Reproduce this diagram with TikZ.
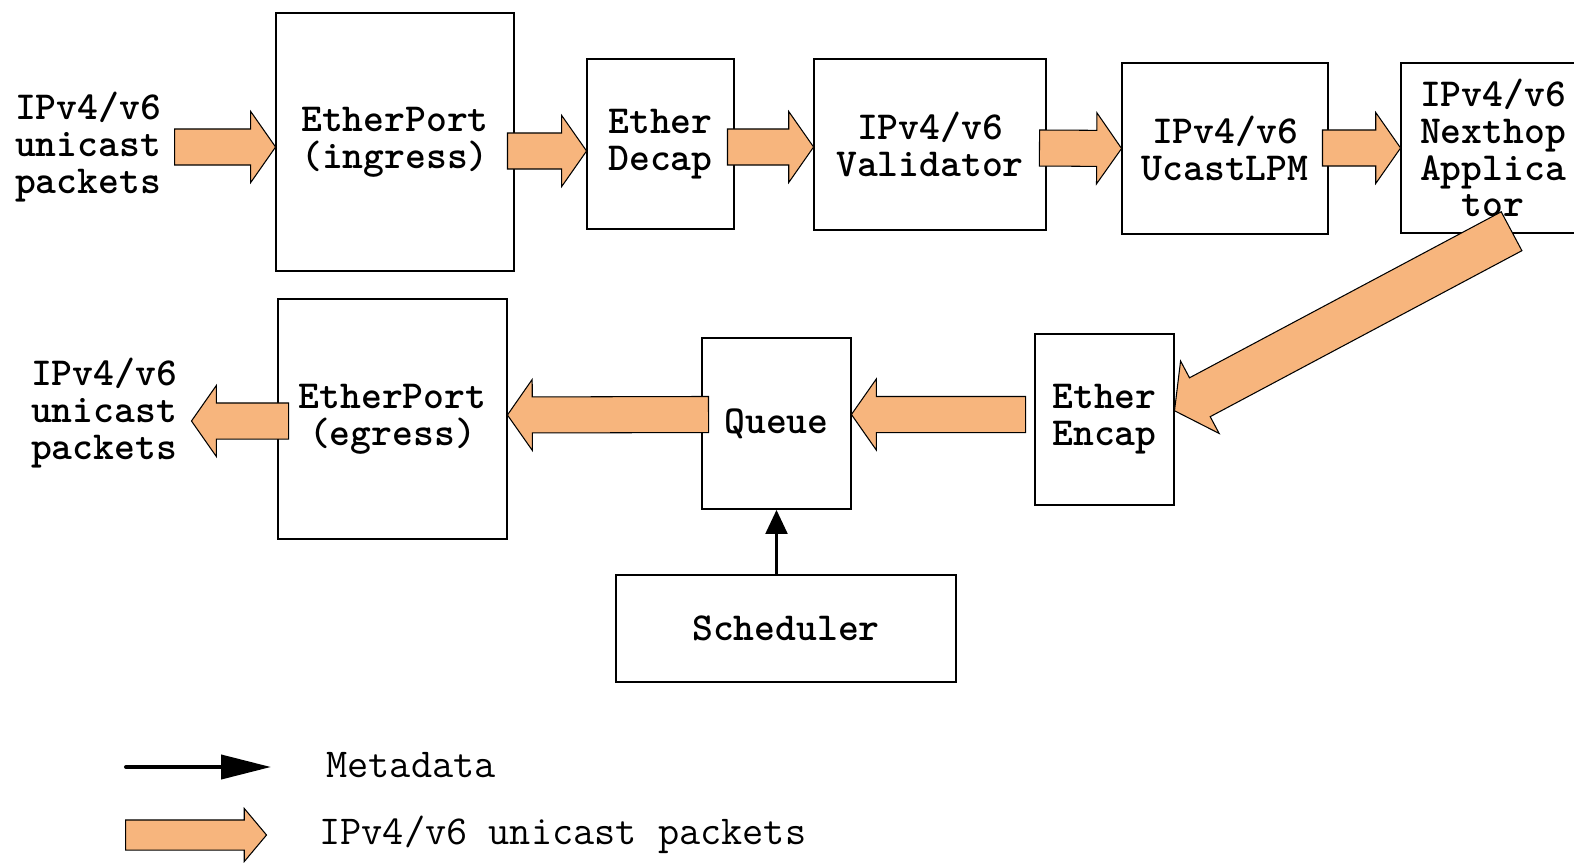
\documentclass[tikz,border=0pt]{standalone}
\usepackage{fontspec}
\usetikzlibrary{arrows.meta,calc,shapes.arrows}
\definecolor{pktorange}{RGB}{247,181,125}
\tikzset{
  unit/.style={rectangle, draw=black, line width=1.1pt, align=center, inner sep=0pt,
               font=\ttfamily\bfseries\fontsize{22.6}{21}\selectfont},
  tag/.style={align=center, inner sep=0pt, font=\ttfamily\bfseries\fontsize{22.6}{21}\selectfont},
  legendtag/.style={anchor=west, inner sep=0pt, font=\ttfamily\fontsize{23.4}{21}\selectfont},
  pktarrow/.style={single arrow, draw=black, line width=0.6pt, fill=pktorange,
                   inner xsep=0pt, inner ysep=0.35cm, minimum width=1.4cm,
                   single arrow head extend=0.35cm, single arrow tip angle=110,
                   sloped, allow upside down, pos=0, anchor=tail},
  meta/.style={-{Triangle[length=0.48cm,width=0.44cm]}, line width=1.3pt},
}
% fat packet arrow from #2 (tail) to #3 (tip)
\newcommand{\packetflow}[3][]{%
  \path let \p1=($(#3)-(#2)$), \n1={veclen(\x1,\y1)} in
    (#2) -- (#3) node[pktarrow, minimum height=\n1, #1] {};}

\begin{document}
\begin{tikzpicture}[x=0.02cm, y=-0.02cm]
\useasboundingbox (0,0) rectangle (1574,862);
\clip (0,0) rectangle (1574,862);

% forwarding units
\node[unit, minimum width=4.76cm, minimum height=5.16cm] (ingress) at (395,142) {EtherPort\\(ingress)};
\node[unit, minimum width=2.94cm, minimum height=3.40cm] (decap) at (660.5,144) {Ether\\Decap};
\node[unit, minimum width=4.64cm, minimum height=3.42cm] (validator) at (930,144.5) {IPv4/v6\\Validator};
\node[unit, minimum width=4.12cm, minimum height=3.42cm] (ucast) at (1225,148.5) {IPv4/v6\\UcastLPM};
\node[unit, minimum width=3.68cm, minimum height=3.40cm] (nexthop) at (1493,148) {IPv4/v6\\Nexthop\\Applica\\tor};
\node[unit, minimum width=2.78cm, minimum height=3.42cm] (encap) at (1104.5,419.5) {Ether\\Encap};
\node[unit, minimum width=2.98cm, minimum height=3.42cm] (queue) at (776.5,423.5) {Queue};
\node[unit, minimum width=4.58cm, minimum height=4.80cm] (egress) at (392.5,419) {EtherPort\\(egress)};
\node[unit, minimum width=6.80cm, minimum height=2.14cm] (sched) at (786,628.5) {Scheduler};

\node[tag] (srclabel) at (88,147) {IPv4/v6\\unicast\\packets};
\node[tag] (dstlabel) at (104,413) {IPv4/v6\\unicast\\packets};

% packet path
\coordinate (pin) at (174,147);
\coordinate (pout) at (192,421);
\coordinate (pturn) at (1512,231);
\packetflow{pin}{$(ingress.west)+(0,5)$}
\packetflow{$(ingress.east)+(-8,9)$}{$(decap.west)+(0,7)$}
\packetflow{$(decap.east)+(-8,3)$}{$(validator.west)+(0,2.5)$}
\packetflow{$(validator.east)+(-8,3.5)$}{ucast.west}
\packetflow{$(ucast.east)+(-7,-0.5)$}{nexthop.west}
\packetflow[inner ysep=0.43cm, minimum width=1.6cm, single arrow head extend=0.38cm]{pturn}{$(encap.east)+(0,-9)$}
\packetflow{$(encap.west)+(-8,-5)$}{$(queue.east)+(0,-9)$}
\packetflow{$(queue.west)+(8,-9)$}{$(egress.east)+(0,-4)$}
\packetflow{$(egress.west)+(12,2)$}{pout}

% metadata
\draw[meta] (queue.south |- sched.north) -- (queue.south);

% legend
\coordinate (mdA) at (126,767);
\coordinate (mdB) at (271,767);
\draw[line width=2.3pt, line cap=round, -{Triangle[length=1cm,width=0.48cm]}] (mdA) -- (mdB);
\node[legendtag] (mdlabel) at (326,765) {Metadata};
\coordinate (lgA) at (125,835);
\coordinate (lgB) at (266,835);
\packetflow[inner ysep=0.29cm, minimum width=1.04cm, single arrow head extend=0.23cm, single arrow tip angle=100]{lgA}{lgB}
\node[legendtag] (pktlabel) at (319,835) {IPv4/v6 unicast packets};
\end{tikzpicture}
\end{document}
